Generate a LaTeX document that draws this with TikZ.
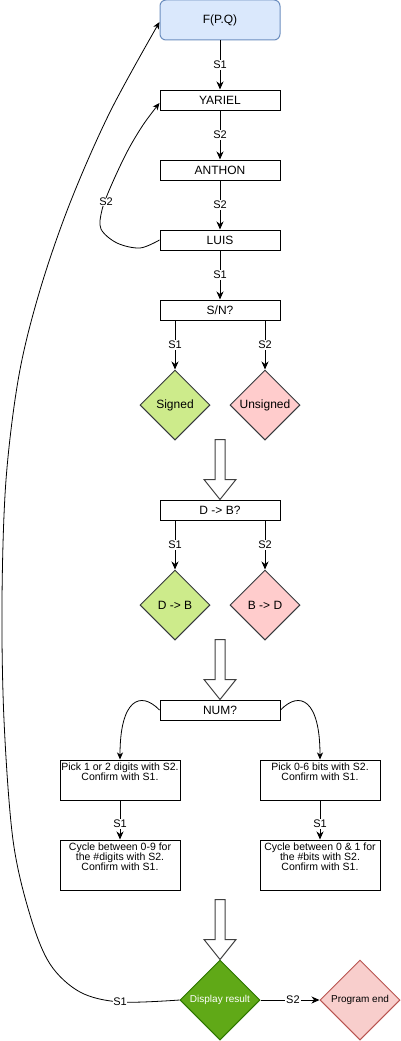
\documentclass[tikz,border=0pt]{standalone}
\usepackage{fontspec}
\setmainfont{Liberation Sans}
\usetikzlibrary{shapes.geometric,arrows.meta}
\definecolor{bluefill}{HTML}{DAE8FC}
\definecolor{bluedraw}{HTML}{6C8EBF}
\definecolor{greenfill}{HTML}{CDEB8B}
\definecolor{redfill}{HTML}{FFCCCC}
\definecolor{darkdraw}{HTML}{36393D}
\definecolor{dgreenfill}{HTML}{60A917}
\definecolor{dgreendraw}{HTML}{2D7600}
\definecolor{pinkfill}{HTML}{F8CECC}
\definecolor{pinkdraw}{HTML}{B85450}
\begin{document}
\begin{tikzpicture}[x=1pt,y=-1pt,
  box/.style={draw=black,fill=white,line width=1pt,minimum width=120pt,minimum height=20pt,inner sep=0pt,font=\fontsize{12}{14}\selectfont},
  smallbox/.style={draw=black,fill=white,line width=1pt,minimum width=120pt,minimum height=40pt,inner sep=0pt},
  boxtext/.style={align=center,inner sep=0pt,font=\fontsize{10.5}{10}\selectfont,yshift=8pt},
  dia/.style={diamond,aspect=1,draw=darkdraw,line width=1pt,minimum width=70pt,minimum height=70pt,inner sep=0pt,font=\fontsize{12}{14}\selectfont},
  lbl/.style={fill=white,inner sep=1pt,font=\fontsize{11}{13}\selectfont},
  edge/.style={line width=1pt,-{Stealth[length=8pt,width=7pt,inset=2.5pt]}},
  cedge/.style={line width=0.8pt,-{Stealth[length=7pt,width=6pt,inset=2pt]}},
  bigarrow/.style={draw=black!75,fill=white,line width=1pt,line join=miter}
]
\useasboundingbox (0,0) rectangle (401,1041);

% nodes
\node[box,rounded corners=6pt,fill=bluefill,draw=bluedraw,minimum height=40pt] (fpq) at (220,20) {F(P.Q)};
\node[box] (yariel) at (220,100) {YARIEL};
\node[box] (anthon) at (220,170) {ANTHON};
\node[box] (luis) at (220,240) {LUIS};
\node[box] (sn) at (220,310) {S/N?};
\node[dia,fill=greenfill] (signed) at (175,405) {Signed};
\node[dia,fill=redfill] (unsigned) at (265,405) {Unsigned};
\node[box] (db) at (220,510) {D -> B?};
\node[dia,fill=greenfill] (d2b) at (175,605) {D -> B};
\node[dia,fill=redfill] (b2d) at (265,605) {B -> D};
\node[box] (num) at (220,710) {NUM?};
\node[smallbox,label={[boxtext]center:{Pick 1 or 2 digits with S2.\\Confirm with S1.}}] (digits) at (120,780) {};
\node[smallbox,label={[boxtext]center:{Pick 0-6 bits with S2.\\Confirm with S1.}}] (bits) at (320,780) {};
\node[smallbox,minimum height=50pt,label={[boxtext]center:{Cycle between 0-9 for\\the \#digits with S2.\\Confirm with S1.}}] (cycd) at (120,865) {};
\node[smallbox,minimum height=50pt,label={[boxtext]center:{Cycle between 0 \& 1 for\\the \#bits with S2.\\Confirm with S1.}}] (cycb) at (320,865) {};
\node[dia,fill=dgreenfill,draw=dgreendraw,text=white,minimum width=80pt,minimum height=80pt,font=\fontsize{10}{12}\selectfont] (disp) at (220,1000) {Display result};
\node[dia,fill=pinkfill,draw=pinkdraw,minimum width=80pt,minimum height=80pt,font=\fontsize{10}{12}\selectfont] (pend) at (360,1000) {Program end};

% straight edges
\draw[edge] (fpq.south) -- node[lbl]{S1} (yariel.north);
\draw[edge] (yariel.south) -- node[lbl]{S2} (anthon.north);
\draw[edge] (anthon.south) -- node[lbl]{S2} (luis.north);
\draw[edge] (luis.south) -- node[lbl]{S1} (sn.north);
\draw[edge] (sn.south -| signed.north) -- node[lbl]{S1} (signed.north);
\draw[edge] (sn.south -| unsigned.north) -- node[lbl]{S2} (unsigned.north);
\draw[edge] (db.south -| d2b.north) -- node[lbl]{S1} (d2b.north);
\draw[edge] (db.south -| b2d.north) -- node[lbl]{S2} (b2d.north);
\draw[edge] (digits.south) -- node[lbl,pos=0.6]{S1} (cycd.north);
\draw[edge] (bits.south) -- node[lbl,pos=0.6]{S1} (cycb.north);
\draw[edge] (disp.east) -- node[lbl,pos=0.55]{S2} (pend.west);

% curved edges
\draw[cedge] (num.west) .. controls (140,690) and (120,700) .. (digits.north);
\draw[cedge] (num.east) .. controls (300,690) and (320,700) .. (bits.north);
\draw[cedge] plot[smooth,tension=0.55] coordinates {(luis.west) (140,248) (117,243) (101,229) (102,210) (111,186) (127,152) (143,125) ([yshift=-3pt]yariel.west)};
\node[lbl,inner sep=0.5pt] (s2loop) at (106,202) {S2};
\draw[cedge] plot[smooth,tension=0.55] coordinates {(disp.west) (120,1002) (80,992) (50,964) (30,915) (13,840) (4,720) (2,600) (6,480) (19,375) (40,290) (70,203) (110,112) ([yshift=-2pt]fpq.west)};
\node[lbl,inner sep=0.5pt] (s1loop) at (120,1002) {S1};

% big hollow arrows
\draw[bigarrow] (db.north) -- ++(-16,-20) -- ++(11,0) -- ++(0,-40) -- ++(10,0) -- ++(0,40) -- ++(11,0) -- cycle;
\draw[bigarrow] (num.north) -- ++(-16,-20) -- ++(11,0) -- ++(0,-40) -- ++(10,0) -- ++(0,40) -- ++(11,0) -- cycle;
\draw[bigarrow] (disp.north) -- ++(-16,-20) -- ++(11,0) -- ++(0,-40) -- ++(10,0) -- ++(0,40) -- ++(11,0) -- cycle;
\end{tikzpicture}
\end{document}
